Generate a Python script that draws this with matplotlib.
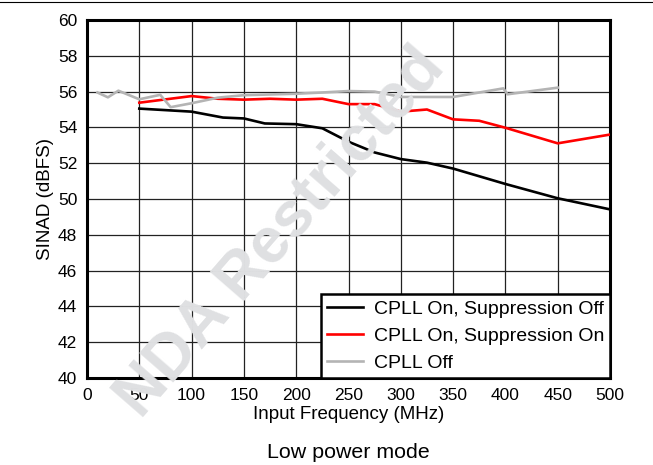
import matplotlib
matplotlib.use("Agg")
import matplotlib.pyplot as plt
from matplotlib.lines import Line2D

plt.rcParams['font.family'] = ['Liberation Sans', 'DejaVu Sans']

# CPLL On, Suppression Off
freq_off = [50, 100, 130, 150, 170, 200, 225, 250, 275, 300, 325, 350, 400, 450, 500]
sinad_off = [55.05, 54.88, 54.55, 54.5, 54.22, 54.18, 53.95, 53.2, 52.6, 52.23, 52.03, 51.7, 50.84, 50.04, 49.42]

# CPLL On, Suppression On
freq_on = [50, 100, 125, 150, 175, 200, 225, 250, 275, 300, 325, 350, 375, 400, 450, 500]
sinad_on = [55.38, 55.75, 55.6, 55.55, 55.6, 55.55, 55.6, 55.3, 55.3, 54.88, 55.0, 54.45, 54.37, 53.98, 53.11, 53.6]

# CPLL Off
freq_cpll_off = [10, 20, 30, 50, 70, 80, 100, 125, 150, 200, 225, 250, 275, 300, 350, 398, 402, 450]
sinad_cpll_off = [55.95, 55.68, 56.05, 55.57, 55.82, 55.13, 55.35, 55.66, 55.8, 55.88, 55.95, 56.03, 56.0, 55.7, 55.7, 56.18, 55.85, 56.22]

labels = ['CPLL On, Suppression Off', 'CPLL On, Suppression On', 'CPLL Off']
x_ticks = list(range(0, 501, 50))
y_ticks = list(range(40, 61, 2))

fig = plt.figure(figsize=(6.53, 4.65), dpi=100)
ax = fig.add_axes([87 / 653, 1 - 378 / 465, 523 / 653, 358 / 465])
ax.set_facecolor('none')

# watermark behind the plot
fig.text(0.43, 0.50, 'NDA Restricted', fontsize=46, fontweight='bold',
         color='#dfe0e2', rotation=49, ha='center', va='center', zorder=0)

ax.plot(freq_off, sinad_off, color='black', lw=1.9, label=labels[0], zorder=3)
ax.plot(freq_on, sinad_on, color='#ff0000', lw=1.9, label=labels[1], zorder=3)
ax.plot(freq_cpll_off, sinad_cpll_off, color='#b4b4b4', lw=1.9, label=labels[2], zorder=3)

ax.set_xlim(0, 500)
ax.set_ylim(40, 60)
ax.set_xticks(x_ticks)
ax.set_yticks(y_ticks)
ax.grid(True, color='#222222', lw=0.9)
ax.set_axisbelow(True)
ax.tick_params(length=0, labelsize=12.5, pad=7)
ax.tick_params(axis='x', pad=7)
for s in ax.spines.values():
    s.set_linewidth(2.2)
    s.set_color('black')

ax.set_xlabel('Input Frequency (MHz)', fontsize=13.5, labelpad=2)
ax.set_ylabel('SINAD (dBFS)', fontsize=13.5, labelpad=3)

leg = ax.legend(loc='lower right', bbox_to_anchor=(1.0, 0.0), borderaxespad=0,
                fontsize=14, frameon=True, fancybox=False, framealpha=1,
                edgecolor='black', handlelength=1.85, handletextpad=0.57,
                labelspacing=0.5, borderpad=0.3)
leg.get_frame().set_linewidth(1.8)
leg.set_zorder(5)

fig.text(348 / 653, 1 - 452 / 465, 'Low power mode', fontsize=15.4, ha='center', va='center')
fig.add_artist(Line2D([0, 1], [1 - 2 / 465, 1 - 2 / 465], color='black', lw=0.8))

fig.savefig('out.png', dpi=100)
